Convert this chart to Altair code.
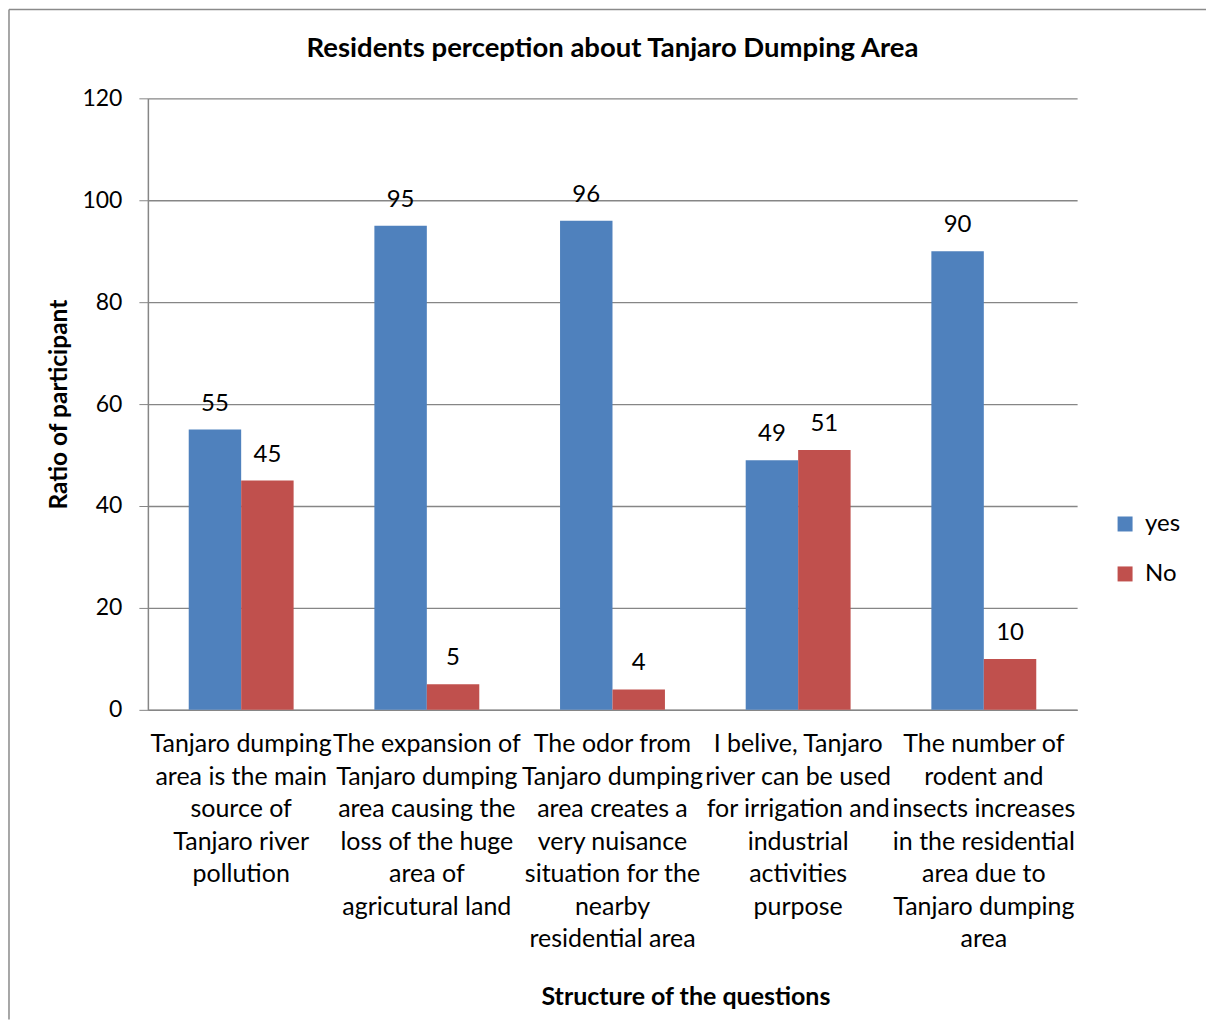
import altair as alt
import pandas as pd

questions = [
    ["Tanjaro dumping", "area is the main", "source of", "Tanjaro river", "pollution"],
    ["The expansion of", "Tanjaro dumping", "area causing the", "loss of the huge", "area of", "agricutural land"],
    ["The odor from", "Tanjaro dumping", "area creates a", "very nuisance", "situation for the", "nearby", "residential area"],
    ["I belive, Tanjaro", "river can be used", "for irrigation and", "industrial", "activities", "purpose"],
    ["The number of", "rodent and", "insects increases", "in the residential", "area due to", "Tanjaro dumping", "area"],
]
yes_values = [55, 95, 96, 49, 90]
no_values = [45, 5, 4, 51, 10]
series_names = ["yes", "No"]
series_colors = ["#4F81BD", "#C0504D"]
y_ticks = [0, 20, 40, 60, 80, 100, 120]

cats = ["|".join(q) for q in questions]
rows = []
for c, yv, nv in zip(cats, yes_values, no_values):
    rows.append({"q": c, "series": "yes", "value": yv})
    rows.append({"q": c, "series": "No", "value": nv})
df = pd.DataFrame(rows)

W, H = 930, 612
FONT = "Lato"
GRID = "#868686"

x_enc = alt.X(
    "q:N", sort=cats,
    scale=alt.Scale(paddingInner=0.435, paddingOuter=0.22),
    axis=alt.Axis(
        title="Structure of the questions",
        labelExpr="split(datum.label, '|')",
        labelAngle=0, labelFont=FONT, labelFontSize=25, labelColor="black",
        labelLineHeight=32.5, labelLimit=0, labelOverlap=False, labelPadding=22,
        labelBaseline="top",
        ticks=False, domainColor=GRID, domainWidth=1.5,
        titleFont=FONT, titleFontSize=25, titleFontWeight="bold", titleColor="black",
        titleX=538, titleY=287, titleBaseline="middle", titleAnchor="start", titleAlign="center",
    ),
)
y_enc = alt.Y(
    "value:Q",
    scale=alt.Scale(domain=[0, 120], nice=False),
    axis=alt.Axis(
        title="Ratio of participant", values=y_ticks,
        labelFont=FONT, labelFontSize=23, labelColor="black", labelPadding=17,
        tickSize=9, tickColor=GRID, domainColor=GRID, domainWidth=1.5,
        gridColor=GRID, gridWidth=1.3,
        titleFont=FONT, titleFontSize=24.5, titleFontWeight="bold", titleColor="black",
        titlePadding=10,
    ),
)
xoff = alt.XOffset("series:N", sort=series_names)
color = alt.Color(
    "series:N", sort=series_names,
    scale=alt.Scale(domain=series_names, range=series_colors),
    legend=alt.Legend(
        title=None, orient="none", legendX=966, legendY=414,
        symbolType="square", symbolSize=225, symbolStrokeWidth=0,
        labelFont=FONT, labelFontSize=24, labelColor="black", labelOffset=8,
        rowPadding=26,
    ),
)

base = alt.Chart(df)
bars = base.mark_bar().encode(x=x_enc, y=y_enc, xOffset=xoff, color=color)
labels = base.mark_text(font=FONT, fontSize=24, color="black", baseline="middle", dy=-26).encode(
    x=alt.X("q:N", sort=cats), y="value:Q", xOffset=xoff, text="value:Q"
)
frame_df = pd.DataFrame({"b": [0]})
top_edge = alt.Chart(frame_df).mark_rule(color="#8a8a8a", strokeWidth=1.5).encode(
    x=alt.value(-139), x2=alt.value(1059), y=alt.value(-89)
)
left_edge = alt.Chart(frame_df).mark_rule(color="#8a8a8a", strokeWidth=1.5).encode(
    x=alt.value(-139), y=alt.value(-89), y2=alt.value(922)
)

chart = alt.layer(top_edge, left_edge, bars, labels).properties(
    width=W, height=H,
    title=alt.TitleParams(
        "Residents perception about Tanjaro Dumping Area",
        font=FONT, fontSize=27.5, fontWeight="bold", color="black", offset=-54,
    ),
    padding={"left": 8, "top": 8, "right": 0, "bottom": 0},
).configure(background="white", view=alt.ViewConfig(stroke=None))

chart.save("out.html", embed_options={"renderer": "svg", "actions": False})
